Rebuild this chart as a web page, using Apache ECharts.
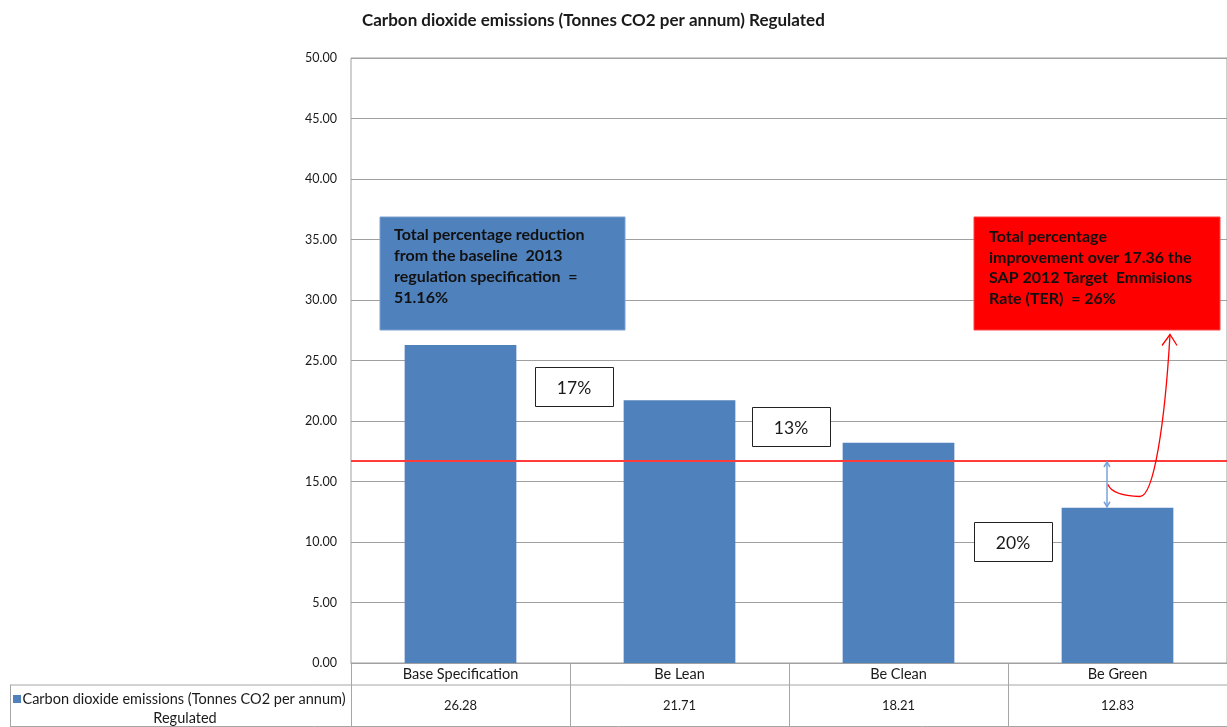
<!DOCTYPE html>
<html><head><meta charset="utf-8">
<script src="https://cdn.jsdelivr.net/npm/echarts@6/dist/echarts.min.js"></script>
<style>html,body{margin:0;padding:0;background:#fff}#c{width:1227px;height:727px}</style>
</head><body><div id="c"></div>
<script>
// ---- data ----
const categories = ['Base Specification', 'Be Lean', 'Be Clean', 'Be Green'];
const seriesLine1 = 'Carbon dioxide emissions (Tonnes CO2 per annum)';
const seriesLine2 = 'Regulated';
const values = [26.28, 21.71, 18.21, 12.83];
const yMin = 0, yMax = 50, yStep = 5;
const targetLevel = 16.7;
const stepLabels = ['17%', '13%', '20%'];
const titleText = 'Carbon dioxide emissions (Tonnes CO2 per annum) Regulated';
const blueNote = ['Total percentage reduction', 'from the baseline  2013', 'regulation specification  =', '51.16%'];
const redNote = ['Total percentage', 'improvement over 17.36 the', 'SAP 2012 Target  Emmisions', 'Rate (TER)  = 26%'];

// ---- chart ----
const FONT = 'Lato';
const BLUE = '#4F81BD';
const GRID = '#a0a0a0';
const TXT = '#1a1a1a';
const chart = echarts.init(document.getElementById('c'), null, {renderer: 'canvas'});
const G = {left: 351, right: -4, top: 58, bottom: 64};

chart.setOption({
  animation: false,
  textStyle: {fontFamily: FONT},
  title: {text: titleText, left: 357, top: 7,
    textStyle: {fontFamily: FONT, fontSize: 17, fontWeight: 'bold', color: TXT}},
  grid: {left: G.left, right: G.right, top: G.top, bottom: G.bottom, containLabel: false,
    show: true, borderColor: GRID, borderWidth: 1},
  xAxis: {type: 'category', data: categories,
    axisLine: {show: true, lineStyle: {color: GRID}},
    axisTick: {show: false},
    axisLabel: {margin: 0, interval: 0,
      formatter: (v, i) => '{c|' + v + '}\n{v|' + values[i].toFixed(2) + '}',
      rich: {
        c: {fontFamily: FONT, fontSize: 14.5, color: TXT, lineHeight: 22, align: 'center'},
        v: {fontFamily: FONT, fontSize: 13, color: TXT, lineHeight: 42, align: 'center'}
      }}
  },
  yAxis: {type: 'value', min: yMin, max: yMax, interval: yStep,
    axisLine: {show: false}, axisTick: {show: false},
    axisLabel: {formatter: v => v.toFixed(2), margin: 14, fontFamily: FONT, fontSize: 12.5, color: TXT},
    splitLine: {lineStyle: {color: GRID, width: 1}}
  },
  series: [{
    type: 'bar', data: values, barWidth: '51%',
    itemStyle: {color: BLUE}
  }]
});

// ---- annotations & table lines (positioned through the chart's scales) ----
function buildGraphics() {
  const p0 = chart.convertToPixel({xAxisIndex: 0, yAxisIndex: 0}, [0, 0]);
  const p1 = chart.convertToPixel({xAxisIndex: 0, yAxisIndex: 0}, [1, 0]);
  const catW = p1[0] - p0[0];
  const xStart = p0[0] - catW / 2;
  const y0 = p0[1];
  const yOf = v => chart.convertToPixel({yAxisIndex: 0}, v);
  const W = chart.getWidth(), H = chart.getHeight();
  const rowY = y0 + 22;
  const lineStyle = {stroke: '#a6a6a6', lineWidth: 1};
  const els = [];
  // target (TER) line
  const yT = Math.round(yOf(targetLevel));
  els.push({type: 'rect', z: 10, shape: {x: xStart, y: yT - 1, width: W - xStart, height: 2},
    style: {fill: '#ff3b3b'}});
  // table lines
  els.push({type: 'line', shape: {x1: 10, y1: rowY, x2: W, y2: rowY}, style: lineStyle});
  els.push({type: 'line', shape: {x1: 10, y1: H - 0.5, x2: W, y2: H - 0.5}, style: lineStyle});
  els.push({type: 'line', shape: {x1: 10.5, y1: rowY, x2: 10.5, y2: H}, style: lineStyle});
  for (let k = 0; k < categories.length; k++) {
    const x = Math.round(xStart + k * catW) + 0.5;
    els.push({type: 'line', shape: {x1: x, y1: y0, x2: x, y2: H}, style: lineStyle});
  }
  // legend cell
  els.push({type: 'rect', shape: {x: 13, y: 695, width: 8, height: 8}, style: {fill: BLUE}});
  els.push({type: 'text', x: 184, y: 699, style: {text: seriesLine1, fontFamily: FONT, fontSize: 14.5,
    fill: TXT, align: 'center', verticalAlign: 'middle'}});
  els.push({type: 'text', x: 185, y: 718, style: {text: seriesLine2, fontFamily: FONT, fontSize: 14.5,
    fill: TXT, align: 'center', verticalAlign: 'middle'}});

  // note boxes
  els.push({type: 'rect', z: 20, shape: {x: 380, y: 217, width: 245, height: 113},
    style: {fill: BLUE, stroke: '#7aa0d0', lineWidth: 1}});
  els.push({type: 'text', z: 21, x: 394, y: 224, style: {text: blueNote.join('\n'), fontFamily: FONT,
    fontSize: 16, fontWeight: 'bold', fill: '#111', lineHeight: 21, align: 'left', verticalAlign: 'top'}});
  els.push({type: 'rect', z: 20, shape: {x: 974, y: 217, width: 246, height: 113},
    style: {fill: '#ff0000', stroke: '#ff4040', lineWidth: 1}});
  els.push({type: 'text', z: 21, x: 989, y: 227, style: {text: redNote.join('\n'), fontFamily: FONT,
    fontSize: 16, fontWeight: 'bold', fill: '#111', lineHeight: 20.5, align: 'left', verticalAlign: 'top'}});

  // step percentage boxes
  const boxes = [[535, 367], [752, 407], [974, 522]];
  stepLabels.forEach((t, i) => {
    els.push({type: 'rect', z: 20, shape: {x: boxes[i][0] + 0.5, y: boxes[i][1] + 0.5, width: 78, height: 39},
      style: {fill: '#fff', stroke: '#222', lineWidth: 1}});
    els.push({type: 'text', z: 21, x: boxes[i][0] + 39, y: boxes[i][1] + 21, style: {text: t, fontFamily: FONT,
      fontSize: 17.5, fill: TXT, align: 'center', verticalAlign: 'middle'}});
  });

  // blue double arrow between target line and last bar
  const ax = 1107;
  const yB = yOf(values[3]);
  const arrowStyle = {stroke: '#7aa3d8', lineWidth: 1.5, fill: null};
  els.push({type: 'line', z: 20, shape: {x1: ax, y1: yT + 1, x2: ax, y2: yB - 1}, style: arrowStyle});
  els.push({type: 'polyline', z: 20, shape: {points: [[ax - 3, yT + 6], [ax, yT + 1], [ax + 3, yT + 6]]}, style: arrowStyle});
  els.push({type: 'polyline', z: 20, shape: {points: [[ax - 3, yB - 6], [ax, yB - 1], [ax + 3, yB - 6]]}, style: arrowStyle});

  // red curved arrow to red note
  const cy = yOf(15);
  const redStyle = {stroke: '#ff0000', lineWidth: 1.3, fill: null};
  els.push({type: 'bezierCurve', z: 20, shape: {x1: ax + 1, y1: cy + 3, cpx1: ax + 5, cpy1: cy + 14, x2: ax + 33, y2: cy + 15},
    style: redStyle});
  els.push({type: 'bezierCurve', z: 20, shape: {x1: ax + 33, y1: cy + 15, cpx1: ax + 47, cpy1: cy + 15,
    cpx2: ax + 58, cpy2: cy - 60, x2: ax + 63, y2: cy - 147}, style: redStyle});
  els.push({type: 'polyline', z: 20, shape: {points: [[ax + 55, cy - 136], [ax + 63, cy - 147], [ax + 70, cy - 136]]},
    style: redStyle});

  chart.setOption({graphic: els});
}
buildGraphics();
</script>
</body></html>
